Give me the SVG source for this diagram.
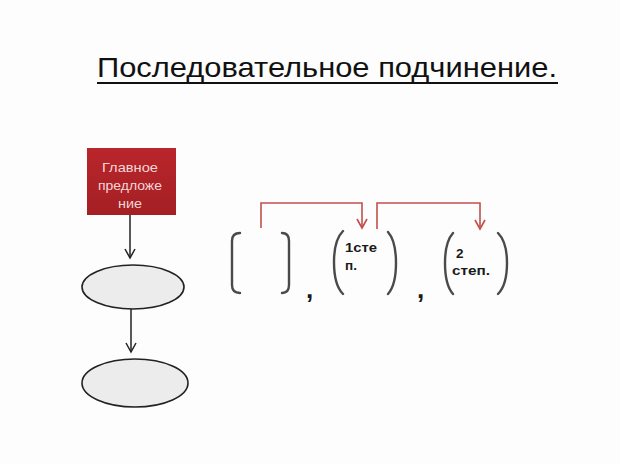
<svg xmlns="http://www.w3.org/2000/svg" width="620" height="464" viewBox="0 0 620 464">
<defs>
<style>
.t{font-family:"Liberation Sans",Arial,sans-serif;}
.br{fill:none;stroke:#4a4a4a;stroke-width:2.4;stroke-linecap:round}
.red{fill:none;stroke:#c0504d;stroke-width:1.6}
.blk{fill:none;stroke:#222;stroke-width:1.5}
.el{fill:#ececec;stroke:#222;stroke-width:1.6}
.lbl{font-size:13.5px;font-weight:bold;fill:#1a1a1a}
.wt{font-size:13.5px;fill:#f3d6d6}
</style>
<linearGradient id="g" x1="0" y1="0" x2="0" y2="1">
<stop offset="0" stop-color="#b9262b"/>
<stop offset="1" stop-color="#a41f24"/>
</linearGradient>
</defs>
<rect width="620" height="464" fill="#fdfdfd"/>
<g id="title">
<text class="t" x="97" y="77" font-size="28" fill="#111" textLength="460" lengthAdjust="spacingAndGlyphs">Последовательное подчинение.</text>
<line x1="97" y1="83" x2="558" y2="83" stroke="#111" stroke-width="2"/>
</g>
<g id="main">
<rect x="87" y="148" width="89" height="67" fill="url(#g)"/>
<text class="t wt" x="102" y="172" textLength="56" lengthAdjust="spacingAndGlyphs">Главное</text>
<text class="t wt" x="98" y="190" textLength="64" lengthAdjust="spacingAndGlyphs">предложе</text>
<text class="t wt" x="118" y="208" textLength="24" lengthAdjust="spacingAndGlyphs">ние</text>
</g>
<g id="ellipse1"><ellipse class="el" cx="133" cy="287" rx="51" ry="22"/></g>
<g id="ellipse2"><ellipse class="el" cx="135" cy="383" rx="53" ry="24"/></g>
<g id="clause0">
<path class="br" d="M240,233 Q232,233 232,241 L232,285 Q232,293 240,293"/>
<path class="br" d="M282,233 Q289,233 289,241 L289,285 Q289,293 282,293"/>
</g>
<g id="clause1">
<path class="br" d="M343,231 Q334,240 334,262 Q334,285 343,294"/>
<path class="br" d="M388,232 Q396,241 396,263 Q396,285 388,294"/>
<text class="t lbl" x="345" y="252" textLength="32" lengthAdjust="spacingAndGlyphs">1сте</text>
<text class="t lbl" x="345" y="270">п.</text>
</g>
<g id="clause2">
<path class="br" d="M453,233 Q445,242 445,263 Q445,285 453,294"/>
<path class="br" d="M498,233 Q507,242 507,263 Q507,285 498,294"/>
<text class="t lbl" x="456" y="258">2</text>
<text class="t lbl" x="452" y="275" textLength="38" lengthAdjust="spacingAndGlyphs">степ.</text>
</g>
<g id="commas" class="t" font-size="26" font-weight="bold" fill="#1a1a1a">
<text x="306" y="298">,</text>
<text x="417" y="298">,</text>
</g>
<g id="connectors">
<path class="blk" d="M130,215 L130,258"/>
<path class="blk" d="M125,249 L130,258 L135,249"/>
<path class="blk" d="M131,309 L131,352"/>
<path class="blk" d="M126,343 L131,352 L136,343"/>
<path class="red" d="M261,228 L261,203 L362,203 L362,228"/>
<path class="red" d="M357,219 L362,228 L367,219"/>
<path class="red" d="M377,229 L377,203 L480,203 L480,229"/>
<path class="red" d="M475,220 L480,229 L485,220"/>
</g>
</svg>
